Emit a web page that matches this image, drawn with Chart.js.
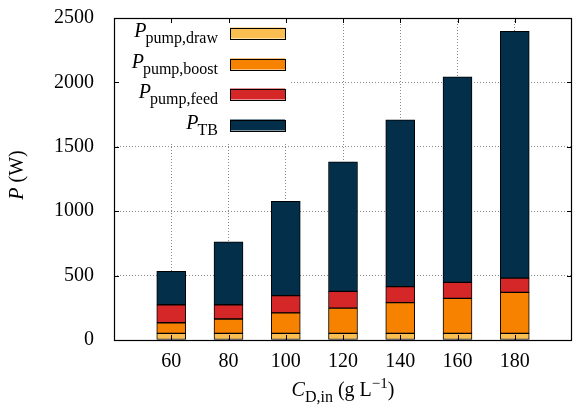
<!DOCTYPE html>
<html>
<head>
<meta charset="utf-8">
<script src="https://cdn.jsdelivr.net/npm/chart.js@4/dist/chart.umd.min.js"></script>
<style>
  html, body { margin: 0; padding: 0; background: #fff; }
  #wrap { width: 573px; height: 407px; }
</style>
</head>
<body>
<div id="wrap"><canvas id="myChart" width="573" height="407"></canvas></div>
<script>
// feed draw concentration (g/L) and power terms (W)
const concs = [60, 80, 100, 120, 140, 160, 180];
const pumpDraw = [52, 52, 52, 52, 52, 52, 52];
const pumpBoost = [82, 111, 158, 196, 238, 271, 318];
const pumpFeed = [140, 111, 134, 130, 124, 125, 111];
const pTB = [259, 489, 733, 1006, 1296, 1596, 1916];
const yTicks = [0, 500, 1000, 1500, 2000, 2500];

const seriesNames = [
    ["P", "pump,draw"],
    ["P", "pump,boost"],
    ["P", "pump,feed"],
    ["P", "TB"]
];
const colors = ["#fbbf51", "#f68200", "#d62728", "#032f4a"];

const serif = "'Liberation Serif', 'DejaVu Serif', serif";

function toPoints(vals) {
    return concs.map((c, i) => ({ x: c, y: vals[i] }));
}

// frame, inward ticks, axis titles and the gnuplot-style key
const decor = {
    id: "decor",
    beforeDatasetsDraw(chart) {
        const { ctx, chartArea } = chart;
        // key sits on an opaque patch that hides the grid
        ctx.save();
        ctx.fillStyle = "#fff";
        ctx.fillRect(chartArea.left + 1, chartArea.top + 1, 176, 124);
        ctx.restore();
    },
    afterDraw(chart) {
        const { ctx, chartArea, scales } = chart;
        const a = chartArea;
        ctx.save();
        ctx.strokeStyle = "#000";
        ctx.lineWidth = 1;

        // ticks on all four sides
        ctx.beginPath();
        concs.forEach(c => {
            const x = Math.round(scales.x.getPixelForValue(c)) + 0.5;
            ctx.moveTo(x, a.bottom); ctx.lineTo(x, a.bottom - 5);
            ctx.moveTo(x, a.top); ctx.lineTo(x, a.top + 5);
        });
        yTicks.slice(1, -1).forEach(v => {
            const y = Math.round(scales.y.getPixelForValue(v)) + 0.5;
            ctx.moveTo(a.left, y); ctx.lineTo(a.left + 5, y);
            ctx.moveTo(a.right, y); ctx.lineTo(a.right - 5, y);
        });
        ctx.stroke();

        ctx.lineWidth = 1.2;
        ctx.strokeRect(Math.round(a.left) + 0.5, Math.round(a.top) + 0.5,
            Math.round(a.right - a.left) - 1, Math.round(a.bottom - a.top));

        ctx.fillStyle = "#000";
        ctx.textBaseline = "alphabetic";

        // key
        const boxL = a.left + 116, boxW = 55, boxH = 11;
        const textR = a.left + 104;
        const rows = [a.top + 15, a.top + 46, a.top + 76, a.top + 107];
        seriesNames.forEach((nm, i) => {
            const cy = rows[i];
            ctx.fillStyle = colors[i];
            ctx.fillRect(boxL, cy - boxH / 2, boxW, boxH);
            ctx.strokeStyle = "#000";
            ctx.lineWidth = 1;
            ctx.strokeRect(boxL + 0.5, Math.round(cy - boxH / 2) + 0.5, boxW, boxH);

            ctx.fillStyle = "#000";
            ctx.font = "16px " + serif;
            const sw = ctx.measureText(nm[1]).width;
            ctx.textAlign = "left";
            ctx.fillText(nm[1], textR - sw, cy + 10);
            ctx.font = "italic 20px " + serif;
            const pw = ctx.measureText(nm[0]).width;
            ctx.fillText(nm[0], textR - sw - pw + 1, cy + 4);
        });

        // x axis title: C_D,in (g L^-1)
        const parts = [
            { t: "C", f: "italic 20px " + serif, dy: 0 },
            { t: "D,in", f: "16px " + serif, dy: 6 },
            { t: " (g L", f: "20px " + serif, dy: 0 },
            { t: "\u22121", f: "15px " + serif, dy: -8 },
            { t: ")", f: "20px " + serif, dy: 0 }
        ];
        let total = 0;
        parts.forEach(p => { ctx.font = p.f; p.w = ctx.measureText(p.t).width; total += p.w; });
        let xx = (a.left + a.right) / 2 - total / 2;
        const base = 396;
        parts.forEach(p => {
            ctx.font = p.f;
            ctx.fillText(p.t, xx, base + p.dy);
            xx += p.w;
        });

        // y axis title: P (W)
        ctx.translate(23, (a.top + a.bottom) / 2 - 4);
        ctx.rotate(-Math.PI / 2);
        ctx.font = "italic 20px " + serif;
        const w1 = ctx.measureText("P").width;
        ctx.font = "20px " + serif;
        const w2 = ctx.measureText(" (W)").width;
        ctx.font = "italic 20px " + serif;
        ctx.fillText("P", -(w1 + w2) / 2, 0);
        ctx.font = "20px " + serif;
        ctx.fillText(" (W)", -(w1 + w2) / 2 + w1, 0);
        ctx.restore();
    }
};

const gridStyle = {
    color: "#8a8a8a",
    lineWidth: 1,
    drawTicks: false
};

const ctx = document.getElementById("myChart");

new Chart(ctx, {
    type: "bar",
    data: {
        datasets: [pumpDraw, pumpBoost, pumpFeed, pTB].map((vals, i) => ({
            label: seriesNames[i].join("_"),
            data: toPoints(vals),
            backgroundColor: colors[i],
            borderColor: "#000",
            borderWidth: 1,
            borderSkipped: false,
            barThickness: 29
        }))
    },
    options: {
        responsive: false,
        animation: false,
        layout: { padding: { top: 18, right: 1, left: 0, bottom: 0 } },
        plugins: {
            legend: { display: false },
            tooltip: { enabled: false }
        },
        scales: {
            x: {
                type: "linear",
                stacked: true,
                offset: false,
                min: 40,
                max: 200,
                grid: { ...gridStyle, offset: false },
                border: { display: false, dash: [1, 2] },
                afterBuildTicks(axis) {
                    axis.ticks = concs.map(v => ({ value: v }));
                },
                afterFit(axis) {
                    axis.height = 67;
                    axis.paddingLeft = 0;
                    axis.paddingRight = 0;
                },
                ticks: {
                    padding: 10,
                    color: "#000",
                    font: { family: serif, size: 20 }
                }
            },
            y: {
                stacked: true,
                min: 0,
                max: 2500,
                grid: gridStyle,
                border: { display: false, dash: [1, 2] },
                afterBuildTicks(axis) {
                    axis.ticks = yTicks.map(v => ({ value: v }));
                },
                afterFit(axis) {
                    axis.width = 114;
                    axis.paddingTop = 0;
                    axis.paddingBottom = 0;
                },
                ticks: {
                    padding: 20,
                    color: "#000",
                    font: { family: serif, size: 20 },
                    callback: v => String(v)
                }
            }
        }
    },
    plugins: [decor]
});
</script>
</body>
</html>
